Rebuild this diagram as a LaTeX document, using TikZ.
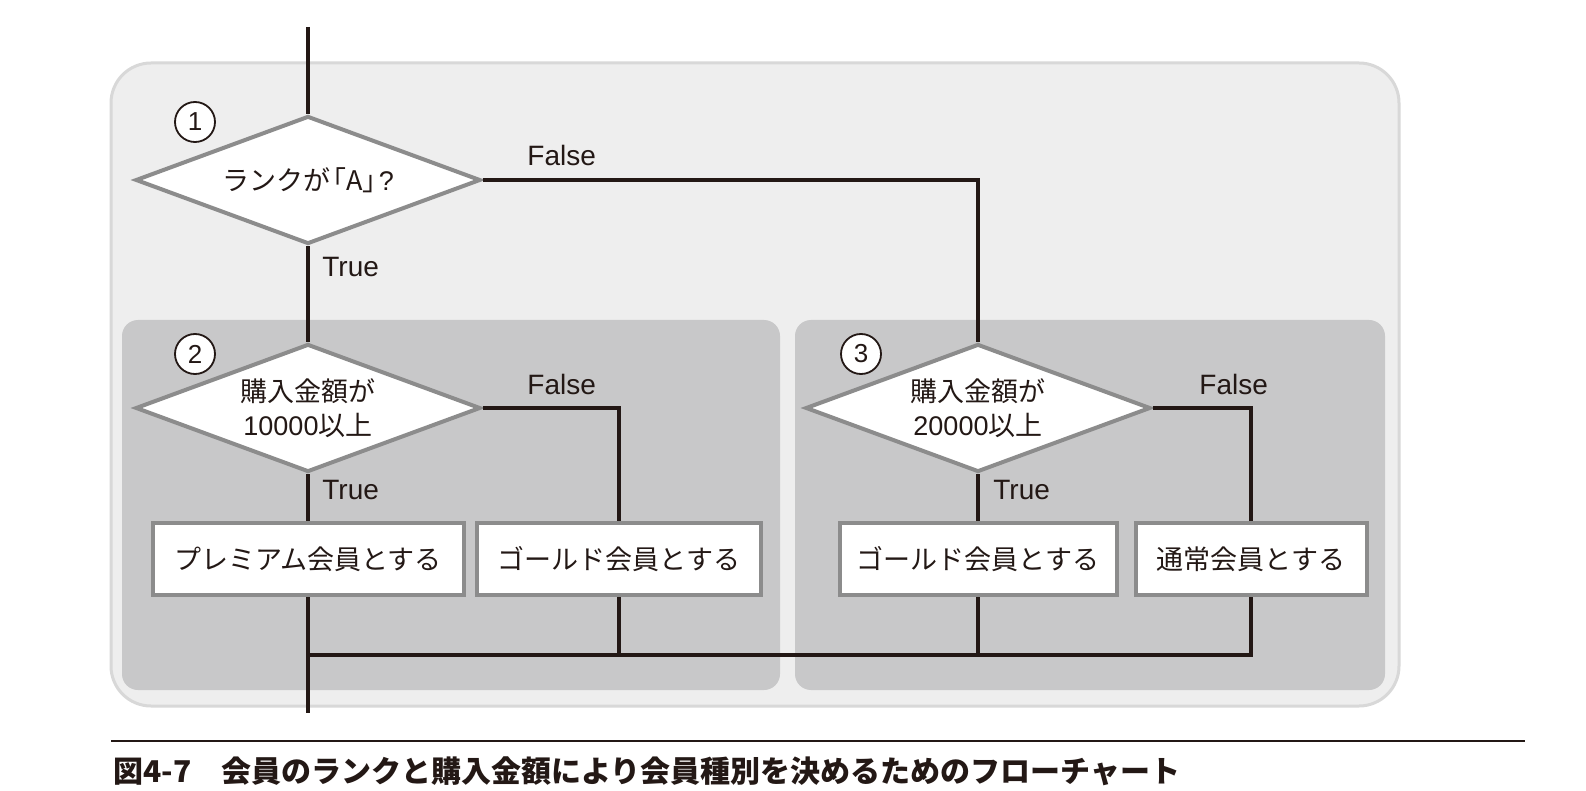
\documentclass[tikz,border=0pt]{standalone}
\usepackage{fontspec}
\setmainfont{Noto Sans CJK JP}
\newfontfamily\lat{Liberation Sans}
\usetikzlibrary{shapes.geometric}
\definecolor{outerfill}{HTML}{EEEEEE}
\definecolor{outerline}{HTML}{D8D8D8}
\definecolor{innerfill}{HTML}{C8C8C9}
\definecolor{shapeline}{HTML}{8C8C8C}
\definecolor{ink}{HTML}{231815}
\newcommand\jptext{\fontsize{13.5}{17}\selectfont}
\begin{document}
\begin{tikzpicture}[x=0.5pt,y=-0.5pt,
  decision/.style={diamond, draw=shapeline, line width=2pt, fill=white,
    minimum width=172.5pt, minimum height=64pt, inner sep=0pt, aspect=2.7,
    align=center, font=\jptext, text=ink},
  procbox/.style={rectangle, draw=shapeline, line width=2pt, fill=white,
    minimum height=36pt, inner sep=0pt, font=\jptext, text=ink},
  flow/.style={draw=ink, line width=1.6pt},
  lbl/.style={font=\lat\fontsize{14}{16}\selectfont, anchor=west, inner sep=0pt, text=ink},
  num/.style={circle, draw=ink, line width=0.9pt, fill=white, minimum size=20pt,
    inner sep=0pt, font=\lat\fontsize{13}{14}\selectfont, text=ink},
  outerbox/.style={fill=outerfill, draw=outerline, line width=1.5pt, rounded corners=20pt},
  innerbox/.style={fill=innerfill, rounded corners=8pt},
  ]
\useasboundingbox (0,0) rectangle (1586,791);
\fill[white] (0,0) rectangle (1586,791);
% containers
\draw[outerbox] (111,63) rectangle (1399,706);
\fill[innerbox] (122,320) rectangle (780,690);
\fill[innerbox] (795,320) rectangle (1385,690);
% decisions
\node[decision] (d1) at (308,180) {ランクが\kern-0.4em「A」\kern-0.4em{\lat ?}};
\node[decision] (d2) at (308,408) {購入金額が\\{\lat 10000}以上};
\node[decision] (d3) at (978,408) {購入金額が\\{\lat 20000}以上};
% processes
\node[procbox, minimum width=155.5pt] (b1) at (308,559) {プレミアム会員とする};
\node[procbox, minimum width=142pt] (b2) at (619,559) {ゴールド会員とする};
\node[procbox, minimum width=138.5pt] (b3) at (978,559) {ゴールド会員とする};
\node[procbox, minimum width=115.5pt] (b4) at (1251,559) {通常会員とする};
% numbers
\node[num] (n1) at (195,122) {1};
\node[num] (n2) at (195,354) {2};
\node[num] (n3) at (861,354) {3};
% labels
\node[lbl] (f1) at (527,155) {False};
\node[lbl] (t1) at (322,267) {True};
\node[lbl] (f2) at (527,384) {False};
\node[lbl] (t2) at (322,490) {True};
\node[lbl] (f3) at (1199,384) {False};
\node[lbl] (t3) at (993,490) {True};
% connectors
\coordinate (top) at (308,27);
\coordinate (end) at (308,713);
\coordinate (merge) at (308,655);
\draw[flow] (top) -- (d1.north);
\draw[flow] (d1.south) -- (d2.north);
\draw[flow] (d1.east) -| (d3.north);
\draw[flow] (d2.south) -- (b1.north);
\draw[flow] (d2.east) -| (b2.north);
\draw[flow] (d3.south) -- (b3.north);
\draw[flow] (d3.east) -| (b4.north);
\draw[flow] (b1.south) -- (end);
\draw[flow] (b4.south) |- (merge);
\draw[flow] (b2.south) -- (b2.south |- merge);
\draw[flow] (b3.south) -- (b3.south |- merge);
% caption
\draw[ink, line width=0.8pt] (111,741) -- (1525,741);
\node[anchor=west, inner sep=0pt, text=ink, font=\bfseries\fontsize{15}{18}\selectfont] (cap) at (113,771)
  {図4-7　会員のランクと購入金額により会員種別を決めるためのフローチャート};
\end{tikzpicture}
\end{document}
